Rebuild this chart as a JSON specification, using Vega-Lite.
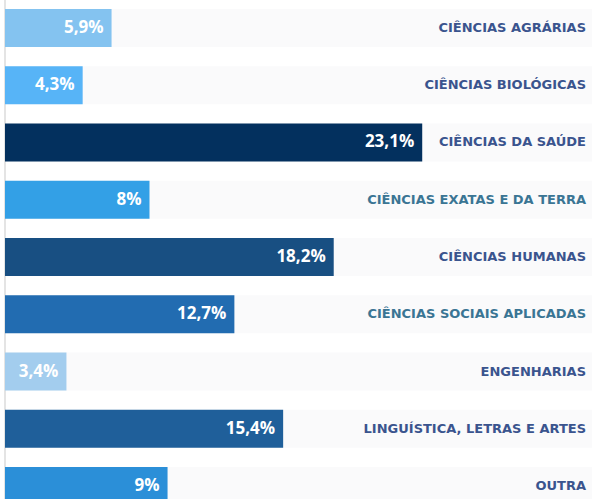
{
  "$schema": "https://vega.github.io/schema/vega-lite/v6.json",
  "width": 592,
  "height": 499,
  "autosize": "none",
  "padding": 0,
  "background": "#ffffff",
  "config": {"view": {"stroke": null}},
  "data": {
    "values": [
      {"area": "CIÊNCIAS AGRÁRIAS", "pct": 5.9, "rotulo": "5,9%"},
      {"area": "CIÊNCIAS BIOLÓGICAS", "pct": 4.3, "rotulo": "4,3%"},
      {"area": "CIÊNCIAS DA SAÚDE", "pct": 23.1, "rotulo": "23,1%"},
      {"area": "CIÊNCIAS EXATAS E DA TERRA", "pct": 8, "rotulo": "8%"},
      {"area": "CIÊNCIAS HUMANAS", "pct": 18.2, "rotulo": "18,2%"},
      {"area": "CIÊNCIAS SOCIAIS APLICADAS", "pct": 12.7, "rotulo": "12,7%"},
      {"area": "ENGENHARIAS", "pct": 3.4, "rotulo": "3,4%"},
      {"area": "LINGUÍSTICA, LETRAS E ARTES", "pct": 15.4, "rotulo": "15,4%"},
      {"area": "OUTRA", "pct": 9, "rotulo": "9%"}
    ]
  },
  "encoding": {
    "y": {
      "field": "area",
      "type": "nominal",
      "sort": null,
      "axis": null,
      "scale": {"range": [0, 514], "paddingInner": 0.336, "paddingOuter": 0.157}
    }
  },
  "layer": [
    {
      "mark": {"type": "bar", "color": "#fafafb", "clip": true},
      "encoding": {
        "x": {"datum": 0, "type": "quantitative", "scale": {"domain": [0, 32.5], "range": [5, 592], "nice": false, "zero": true}, "axis": null},
        "x2": {"datum": 32.5}
      }
    },
    {
      "mark": {"type": "rule", "color": "#e4e4e4", "strokeWidth": 2},
      "encoding": {
        "x": {"datum": 0, "type": "quantitative"},
        "y": {"value": 0},
        "y2": {"value": 499}
      }
    },
    {
      "mark": {"type": "bar", "clip": true},
      "encoding": {
        "x": {"field": "pct", "type": "quantitative"},
        "color": {
          "field": "area",
          "type": "nominal",
          "legend": null,
          "scale": {
            "domain": ["CIÊNCIAS AGRÁRIAS", "CIÊNCIAS BIOLÓGICAS", "CIÊNCIAS DA SAÚDE", "CIÊNCIAS EXATAS E DA TERRA", "CIÊNCIAS HUMANAS", "CIÊNCIAS SOCIAIS APLICADAS", "ENGENHARIAS", "LINGUÍSTICA, LETRAS E ARTES", "OUTRA"],
            "range": ["#84c3f0", "#57b4f7", "#03305e", "#33a0e6", "#184f82", "#226cb1", "#a3cdee", "#1f5f9a", "#2b8fd8"]
          }
        }
      }
    },
    {
      "mark": {"type": "text", "align": "right", "baseline": "middle", "dx": -8, "color": "#ffffff", "font": "Open Sans", "fontWeight": "bold", "fontSize": 17, "clip": true},
      "encoding": {
        "x": {"field": "pct", "type": "quantitative"},
        "text": {"field": "rotulo"}
      }
    },
    {
      "mark": {"type": "text", "align": "right", "baseline": "middle", "dx": -6, "font": "DejaVu Sans", "fontWeight": "bold", "fontSize": 13, "clip": true},
      "encoding": {
        "x": {"datum": 32.5, "type": "quantitative"},
        "text": {"field": "area"},
        "color": {
          "condition": {"test": "datum.area == 'CIÊNCIAS EXATAS E DA TERRA' || datum.area == 'CIÊNCIAS SOCIAIS APLICADAS'", "value": "#3a7594"},
          "value": "#3a548e"
        }
      }
    }
  ]
}
